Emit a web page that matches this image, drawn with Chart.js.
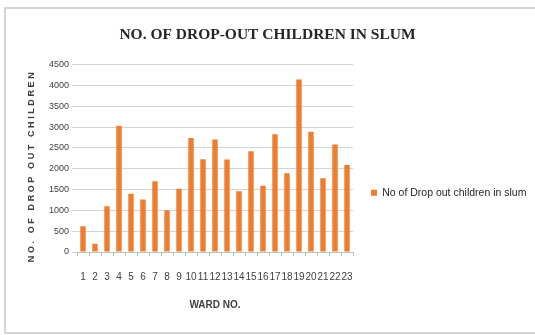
<!DOCTYPE html>
<html>
<head>
<meta charset="utf-8">
<script src="https://cdn.jsdelivr.net/npm/chart.js@4/dist/chart.umd.min.js"></script>
<style>
  html, body { margin: 0; padding: 0; background: #ffffff; }
  #wrap { position: relative; width: 535px; height: 335px; }
</style>
</head>
<body>
<div id="wrap"><canvas id="chart" width="535" height="335"></canvas></div>
<script>
// Ward numbers and drop-out counts per ward
const wards = ['1','2','3','4','5','6','7','8','9','10','11','12','13','14','15','16','17','18','19','20','21','22','23'];
const dropOuts = [620, 200, 1100, 3030, 1400, 1260, 1700, 1000, 1520, 2740, 2230, 2700, 2220, 1460, 2420, 1590, 2830, 1890, 4140, 2890, 1770, 2580, 2090];
const yTicks = [0, 500, 1000, 1500, 2000, 2500, 3000, 3500, 4000, 4500];

const seriesLabel = 'No of Drop out children in slum';
const chartTitle = 'NO. OF DROP-OUT CHILDREN IN SLUM';
const xTitle = 'WARD NO.';
const yTitle = 'NO. OF DROP OUT CHILDREN   ';

// Light grey frame around the whole chart
const framePlugin = {
  id: 'frame',
  beforeDraw(chart) {
    const ctx = chart.ctx;
    ctx.save();
    ctx.fillStyle = '#ffffff';
    ctx.fillRect(0, 0, chart.width, chart.height);
    ctx.strokeStyle = '#d4d4d4';
    ctx.lineWidth = 2;
    ctx.strokeRect(5, 8, chart.width + 10, 325);
    ctx.restore();
  }
};

// Wider letter spacing for the vertical axis title
const spacedTitlePlugin = {
  id: 'spacedTitle',
  afterLayout(chart) {
    const y = chart.scales.y;
    if (!y || y._spacedTitle) return;
    const orig = y.drawTitle.bind(y);
    y.drawTitle = function () {
      const ctx = this.ctx;
      ctx.save();
      ctx.letterSpacing = '2.6px';
      orig();
      ctx.restore();
    };
    y._spacedTitle = true;
  }
};

new Chart(document.getElementById('chart'), {
  type: 'bar',
  data: {
    labels: wards,
    datasets: [{
      label: seriesLabel,
      data: dropOuts,
      backgroundColor: '#ED7D31',
      borderWidth: 0,
      barPercentage: 0.45,
      categoryPercentage: 1.0
    }]
  },
  options: {
    responsive: false,
    animation: false,
    events: [],
    layout: { padding: 0 },
    plugins: {
      title: {
        display: true,
        text: chartTitle,
        color: '#262626',
        font: { family: 'Liberation Serif', size: 15.5, weight: 'bold' },
        padding: { top: 26, bottom: 20 }
      },
      legend: {
        display: true,
        position: 'right',
        align: 'center',
        fullSize: false,
        maxWidth: 182,
        title: {
          display: true,
          text: ' ',
          font: { size: 10 },
          padding: { top: 57, bottom: 0 }
        },
        labels: {
          boxWidth: 6,
          boxHeight: 6,
          padding: 18,
          color: '#262626',
          font: { family: 'Liberation Sans', size: 10.5 }
        }
      },
      tooltip: { enabled: false }
    },
    scales: {
      x: {
        type: 'category',
        offset: true,
        grid: {
          display: true,
          offset: true,
          drawOnChartArea: false,
          drawTicks: true,
          tickLength: 4,
          color: '#bfbfbf'
        },
        border: { display: true, color: '#bfbfbf' },
        ticks: {
          autoSkip: false,
          maxRotation: 0,
          minRotation: 0,
          padding: 15,
          color: '#404040',
          font: { family: 'Liberation Sans', size: 10 }
        },
        title: {
          display: true,
          text: xTitle,
          color: '#404040',
          font: { family: 'Liberation Sans', size: 10, weight: 'bold' },
          padding: { top: 0, bottom: 24 }
        },
        afterFit(scale) { scale.height = 83; }
      },
      y: {
        min: 0,
        max: 4500,
        afterBuildTicks(scale) { scale.ticks = yTicks.map(v => ({ value: v })); },
        grid: {
          color: '#d4d4d4',
          drawTicks: true,
          tickLength: 5
        },
        border: { display: false },
        ticks: {
          padding: 3,
          color: '#404040',
          font: { family: 'Liberation Sans', size: 9 },
          callback: (v) => String(v)
        },
        title: {
          display: true,
          text: yTitle,
          color: '#404040',
          font: { family: 'Liberation Sans', size: 9, weight: 'bold' },
          padding: { top: 26, bottom: 0 }
        },
        afterFit(scale) { scale.width = 77; }
      }
    }
  },
  plugins: [framePlugin, spacedTitlePlugin]
});
</script>
</body>
</html>
